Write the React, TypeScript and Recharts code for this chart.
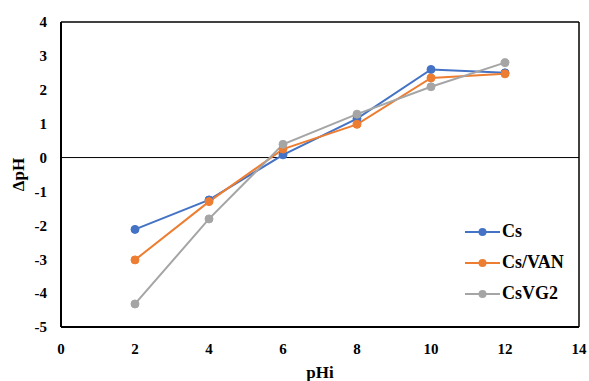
import React from 'react';
import { LineChart, Line, XAxis, YAxis, ReferenceLine } from 'recharts';

const phi = [2, 4, 6, 8, 10, 12];
const cs = [-2.12, -1.25, 0.08, 1.15, 2.6, 2.5];
const csVan = [-3.02, -1.3, 0.25, 0.98, 2.35, 2.47];
const csVg2 = [-4.32, -1.81, 0.39, 1.28, 2.09, 2.8];
const xTicks = [0, 2, 4, 6, 8, 10, 12, 14];
const yTicks = [-5, -4, -3, -2, -1, 0, 1, 2, 3, 4];

const data = phi.map((x, i) => ({ x, cs: cs[i], csVan: csVan[i], csVg2: csVg2[i] }));

const series = [
  { key: 'cs', name: 'Cs', color: '#4472C4' },
  { key: 'csVan', name: 'Cs/VAN', color: '#ED7D31' },
  { key: 'csVg2', name: 'CsVG2', color: '#A5A5A5' },
];

const font = "'Liberation Serif', 'DejaVu Serif', serif";
const tickStyle = { fill: '#000', fontSize: 15, fontWeight: 700, fontFamily: font };
const titleStyle = { ...tickStyle, fontSize: 17 };

const LegendBox = () => (
  <div style={{ position: 'absolute', left: 465, top: 216, fontFamily: font, fontWeight: 700, fontSize: 18 }}>
    {series.map((s) => (
      <div key={s.key} style={{ display: 'flex', alignItems: 'center', height: 31 }}>
        <svg width={37} height={12}>
          <line x1={0} y1={6} x2={35} y2={6} stroke={s.color} strokeWidth={2} />
          <circle cx={17.5} cy={6} r={4} fill={s.color} />
        </svg>
        <span>{s.name}</span>
      </div>
    ))}
  </div>
);

export default function App() {
  return (
    <div style={{ position: 'fixed', left: 0, top: 0, width: 589, height: 381, background: '#fff' }}>
      <LineChart width={589} height={381} data={data} margin={{ top: 22, right: 10, left: 0, bottom: 0 }}>
        <XAxis
          dataKey="x"
          type="number"
          domain={[0, 14]}
          ticks={xTicks}
          tickLine={false}
          tickSize={0}
          tickMargin={16}
          height={54}
          axisLine={{ stroke: '#000', strokeWidth: 2 }}
          tick={tickStyle}
          label={{ value: 'pHi', position: 'insideBottom', offset: 3, style: titleStyle }}
        />
        <YAxis
          type="number"
          domain={[-5, 4]}
          ticks={yTicks}
          tickLine={false}
          tickSize={0}
          tickMargin={14}
          width={61}
          axisLine={{ stroke: '#000', strokeWidth: 2 }}
          tick={tickStyle}
          label={{ value: 'ΔpH', angle: -90, position: 'insideLeft', offset: 18, style: { ...titleStyle, textAnchor: 'middle' } }}
        />
        <ReferenceLine y={4} stroke="#000" strokeWidth={1.5} />
        <ReferenceLine x={14} stroke="#000" strokeWidth={1.5} />
        <ReferenceLine y={0} stroke="#000" strokeWidth={1} />
        {series.map((s) => (
          <Line
            key={s.key}
            dataKey={s.key}
            name={s.name}
            stroke={s.color}
            strokeWidth={2}
            dot={{ r: 4, fill: s.color, stroke: s.color, strokeWidth: 1 }}
            isAnimationActive={false}
          />
        ))}
      </LineChart>
      <LegendBox />
    </div>
  );
}
